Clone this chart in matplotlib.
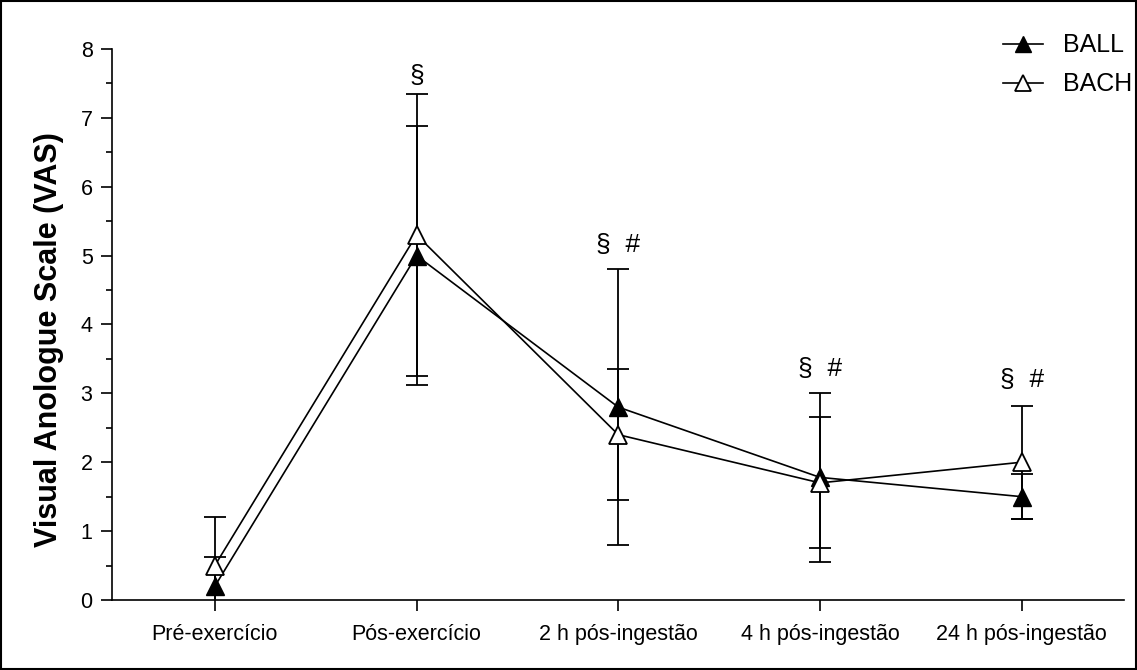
import numpy as np
import matplotlib.pyplot as plt
from matplotlib.lines import Line2D
from matplotlib.patches import Rectangle
from matplotlib.ticker import MultipleLocator

plt.rcParams['font.family'] = ['Liberation Sans', 'DejaVu Sans']

# time points and group means / SD
momentos = ["Pré-exercício", "Pós-exercício", "2 h pós-ingestão", "4 h pós-ingestão", "24 h pós-ingestão"]
ball_media = [0.2, 5.0, 2.8, 1.78, 1.5]
ball_dp = [0.43, 1.88, 2.0, 1.23, 0.33]
bach_media = [0.5, 5.3, 2.4, 1.7, 2.0]
bach_dp = [0.7, 2.05, 0.95, 0.95, 0.82]

# significance marks above each time point
marcas = ["", "§", "§  #", "§  #", "§  #"]
marca_y = [0, 7.6, 5.15, 3.35, 3.2]

x = np.arange(len(momentos))

fig = plt.figure(figsize=(11.37, 6.70), dpi=100)
ax = fig.add_axes([0.0985, 0.1045, 0.8905, 0.8225])

ax.errorbar(x, ball_media, yerr=ball_dp, color="black", lw=1.2, elinewidth=1.3,
            capsize=8, capthick=1.3, marker="^", ms=12.5, mfc="black", mec="black",
            zorder=3)
ax.errorbar(x, bach_media, yerr=bach_dp, color="black", lw=1.2, elinewidth=1.3,
            capsize=8, capthick=1.3, marker="^", ms=12.5, mfc="white", mec="black",
            mew=1.3, zorder=4)

for xi, m, yy in zip(x, marcas, marca_y):
    if m:
        ax.text(xi, yy, m, ha="center", va="center", fontsize=19)

ax.set_xlim(-0.51, 4.51)
ax.set_ylim(0, 8)
ax.set_yticks(range(0, 9))
ax.yaxis.set_minor_locator(MultipleLocator(0.5))
ax.set_xticks(x)
ax.set_xticklabels(momentos)
ax.tick_params(axis="both", which="major", direction="out", length=8, width=1.2,
               labelsize=15.5, colors="black")
ax.tick_params(axis="y", which="minor", direction="out", length=4, width=1.2)
ax.tick_params(axis="y", which="major", pad=6)
ax.tick_params(axis="x", pad=9)
ax.spines["top"].set_visible(False)
ax.spines["right"].set_visible(False)
ax.spines["left"].set_linewidth(1.2)
ax.spines["bottom"].set_linewidth(1.2)
ax.set_ylabel("Visual Anologue Scale (VAS)", fontsize=22, fontweight="bold")
ax.yaxis.set_label_coords(-0.047, 0.472)

handles = [
    Line2D([], [], color="black", lw=1.2, marker="^", ms=12, mfc="black", mec="black"),
    Line2D([], [], color="black", lw=1.2, marker="^", ms=12, mfc="white", mec="black", mew=1.3),
]
ax.legend(handles, ["BALL", "BACH"], loc="upper right", bbox_to_anchor=(1.005, 0.965),
          bbox_transform=fig.transFigure, frameon=False, fontsize=18,
          handlelength=1.6, handletextpad=0.8, labelspacing=0.6, borderaxespad=0)

fig.patches.append(Rectangle((0.001, 0.001), 0.998, 0.998, transform=fig.transFigure,
                             fill=False, edgecolor="black", lw=1.5))

fig.savefig("out.png", dpi=100)
